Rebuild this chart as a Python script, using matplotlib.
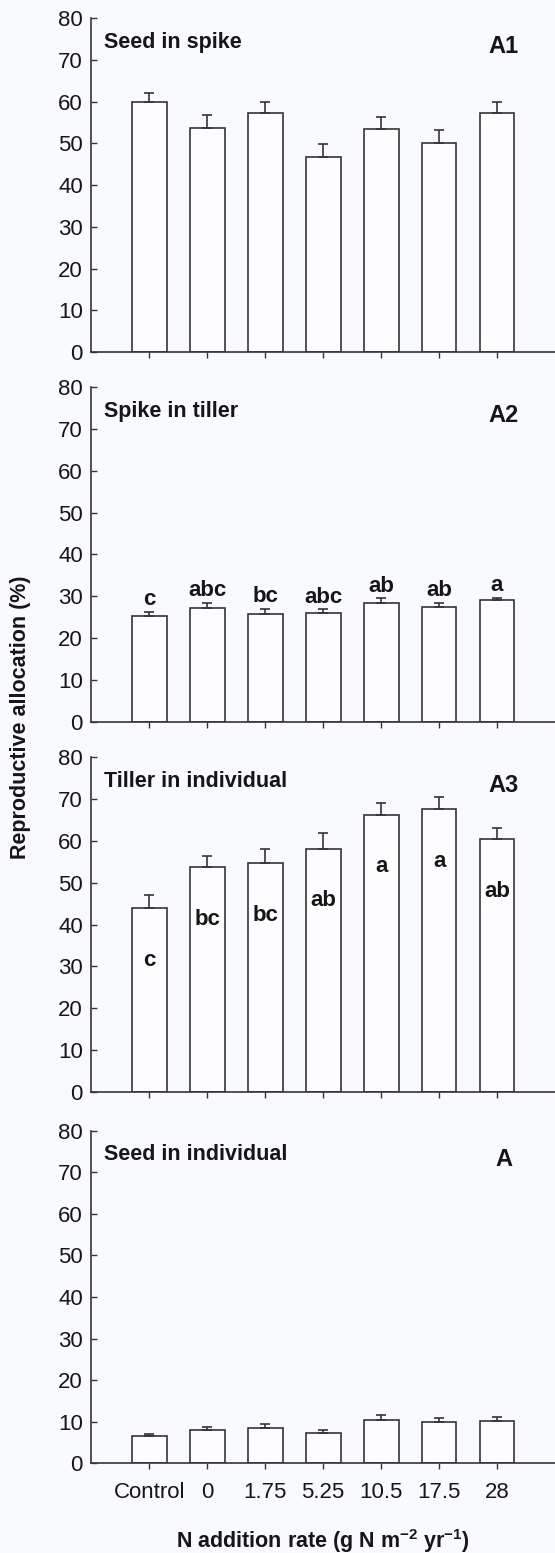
import numpy as np
import matplotlib
matplotlib.use("Agg")
from matplotlib import pyplot as plt

plt.rcParams['font.family'] = ['Liberation Sans', 'DejaVu Sans']
plt.rcParams['mathtext.fontset'] = 'custom'
plt.rcParams['mathtext.rm'] = 'Liberation Sans'
plt.rcParams['mathtext.bf'] = 'Liberation Sans:bold'

# data
categories = ['Control', '0', '1.75', '5.25', '10.5', '17.5', '28']
titles = ['Seed in spike', 'Spike in tiller', 'Tiller in individual', 'Seed in individual']
panel_tags = ['A1', 'A2', 'A3', 'A']

seed_spike = [60.0, 53.7, 57.3, 46.6, 53.4, 50.1, 57.3]
seed_spike_se = [2.0, 3.1, 2.6, 3.3, 3.0, 3.2, 2.5]

spike_tiller = [25.4, 27.2, 25.7, 25.9, 28.4, 27.5, 29.0]
spike_tiller_se = [0.8, 1.3, 1.3, 1.0, 1.1, 1.0, 0.7]
spike_tiller_letters = ['c', 'abc', 'bc', 'abc', 'ab', 'ab', 'a']

tiller_indiv = [44.0, 53.8, 54.7, 58.2, 66.3, 67.7, 60.4]
tiller_indiv_se = [3.1, 2.6, 3.4, 3.8, 2.9, 2.8, 2.7]
tiller_indiv_letters = ['c', 'bc', 'bc', 'ab', 'a', 'a', 'ab']

seed_indiv = [6.5, 7.9, 8.5, 7.3, 10.5, 9.9, 10.1]
seed_indiv_se = [0.6, 0.8, 1.0, 0.8, 1.0, 1.0, 1.0]

means = [seed_spike, spike_tiller, tiller_indiv, seed_indiv]
errs = [seed_spike_se, spike_tiller_se, tiller_indiv_se, seed_indiv_se]

bg = '#f9fafd'
ink = '#161616'
line = '#353535'

fig = plt.figure(figsize=(5.55, 15.53), dpi=100, facecolor=bg)

# panel bottoms / heights in figure fraction (from the picture)
bottoms = [0.7733, 0.5353, 0.2970, 0.0578]
heights = [0.2151, 0.2153, 0.2153, 0.2141]
left = 0.1645

x = np.arange(1, len(categories) + 1)

for i in range(4):
    ax = fig.add_axes([left, bottoms[i], 1 - left, heights[i]])
    ax.set_facecolor('none')
    m = np.array(means[i])
    e = np.array(errs[i])
    ax.bar(x, m, width=0.6, color='#fdfdff', edgecolor=line, linewidth=1.2, zorder=2)
    ax.errorbar(x, m, yerr=[np.zeros_like(e), e], fmt='none', ecolor=line,
                elinewidth=1.2, capsize=3.6, capthick=1.2, zorder=3)

    ax.set_xlim(0, 8)
    ax.set_ylim(0, 80)
    ax.set_yticks(range(0, 81, 10))
    ax.set_xticks(x)
    if i == 3:
        ax.set_xticklabels(categories)
    else:
        ax.set_xticklabels([])

    for s in ['top', 'right']:
        ax.spines[s].set_visible(False)
    for s in ['left', 'bottom']:
        ax.spines[s].set_color(line)
        ax.spines[s].set_linewidth(1.2)

    ax.tick_params(axis='y', direction='in', length=4, width=1.0, color=line,
                   labelsize=16, labelcolor=ink, pad=6)
    ax.tick_params(axis='x', direction='out', length=4.5, width=1.0, color=line,
                   labelsize=16, labelcolor=ink, pad=9)

    ax.text(0.027, 0.928, titles[i], transform=ax.transAxes, ha='left', va='center',
            fontsize=15.5, fontweight='bold', color=ink)
    ax.text(0.889, 0.915, panel_tags[i], transform=ax.transAxes, ha='center', va='center',
            fontsize=17, fontweight='bold', color=ink)

    if i == 1:
        for xi, mi, ei, lab in zip(x, m, e, spike_tiller_letters):
            ax.text(xi, mi + ei + 1.6, lab, ha='center', va='baseline',
                    fontsize=16, fontweight='bold', color=ink)
    if i == 2:
        for xi, mi, lab in zip(x, m, tiller_indiv_letters):
            ax.text(xi, mi - 12.5, lab, ha='center', va='center',
                    fontsize=16, fontweight='bold', color=ink)

fig.text(20.5 / 555, 1 - 717.5 / 1553, 'Reproductive allocation (%)', rotation=90,
         ha='center', va='center', fontsize=15.5, fontweight='bold', color=ink)
fig.text(0.582, 1 - 1541 / 1553, r'N addition rate (g N m$^{\mathbf{-2}}$ yr$^{\mathbf{-1}}$)',
         ha='center', va='center', fontsize=15.5, fontweight='bold', color=ink)

fig.savefig('out.png', dpi=100, facecolor=bg)
